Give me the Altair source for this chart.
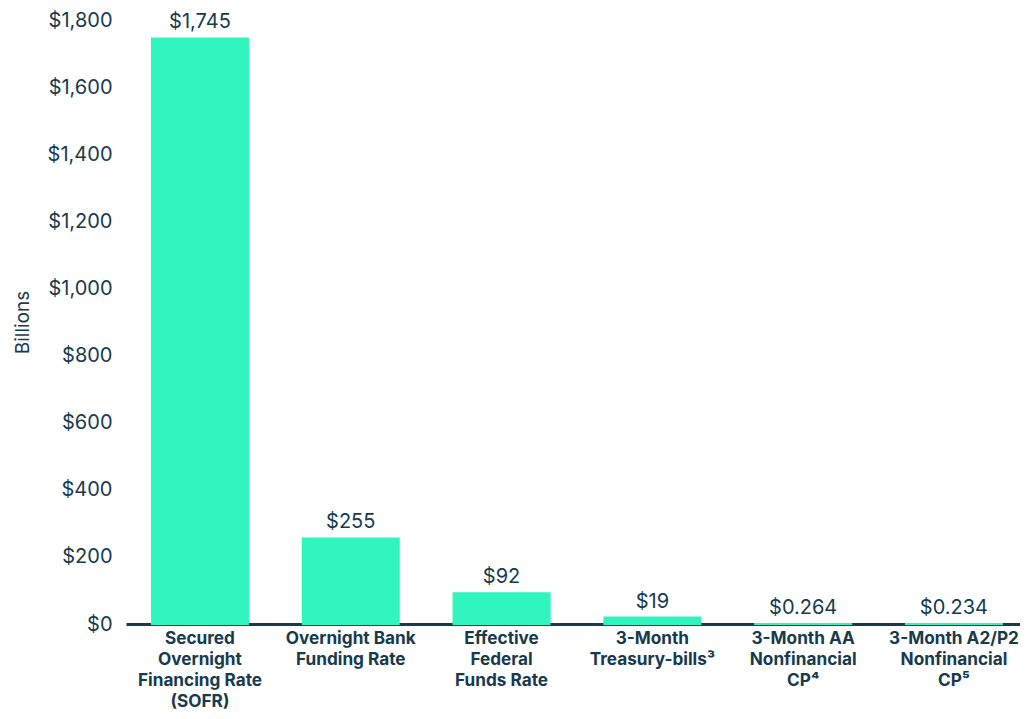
import altair as alt
import pandas as pd

categories = [
    "Secured|Overnight|Financing Rate|(SOFR)",
    "Overnight Bank|Funding Rate",
    "Effective|Federal|Funds Rate",
    "3-Month|Treasury-bills³",
    "3-Month AA|Nonfinancial|CP⁴",
    "3-Month A2/P2|Nonfinancial|CP⁵",
]
values = [1745, 255, 92, 19, 0.264, 0.234]
value_labels = ["$1,745", "$255", "$92", "$19", "$0.264", "$0.234"]
y_ticks = [0, 200, 400, 600, 800, 1000, 1200, 1400, 1600, 1800]

df = pd.DataFrame({"cat": categories, "val": values, "lbl": value_labels})

TEXT = "#173A4D"
BAR = "#31F5BE"
FONT = "Inter"

x = alt.X(
    "cat:N",
    sort=None,
    scale=alt.Scale(paddingInner=0.3634, paddingOuter=0.1459, align=0.59),
    axis=alt.Axis(
        title=None,
        labelAngle=0,
        labelExpr="split(datum.label, '|')",
        labelFont=FONT,
        labelFontSize=17.2,
        labelFontWeight="bold",
        labelColor=TEXT,
        labelLineHeight=21,
        labelPadding=5,
        ticks=False,
        domainColor=TEXT,
        domainWidth=3,
        labelLimit=300,
    ),
)

y = alt.Y(
    "val:Q",
    scale=alt.Scale(domain=[0, 1800], nice=False),
    axis=alt.Axis(
        title="Billions",
        values=y_ticks,
        format="$,.0f",
        labelFont=FONT,
        labelFontSize=20,
        labelColor=TEXT,
        labelPadding=14,
        ticks=False,
        domain=False,
        grid=False,
        titleFont=FONT,
        titleFontSize=19,
        titleFontWeight="normal",
        titleColor=TEXT,
        titlePadding=15,
    ),
)

bars = alt.Chart(df).mark_bar(color=BAR, stroke=BAR, strokeWidth=2).encode(x=x, y=y)
texts = alt.Chart(df).mark_text(
    font=FONT, fontSize=20, color=TEXT, baseline="bottom", dy=-6
).encode(x=alt.X("cat:N", sort=None), y="val:Q", text="lbl:N")

chart = (
    alt.layer(bars, texts)
    .properties(
        width=894,
        height=604,
        autosize=alt.AutoSizeParams(type="none"),
        padding={"left": 118, "top": 12, "right": 0, "bottom": 87},
        background="white",
    )
    .configure_view(stroke=None)
)

chart.save("out.html", embed_options={"renderer": "svg", "actions": False})
